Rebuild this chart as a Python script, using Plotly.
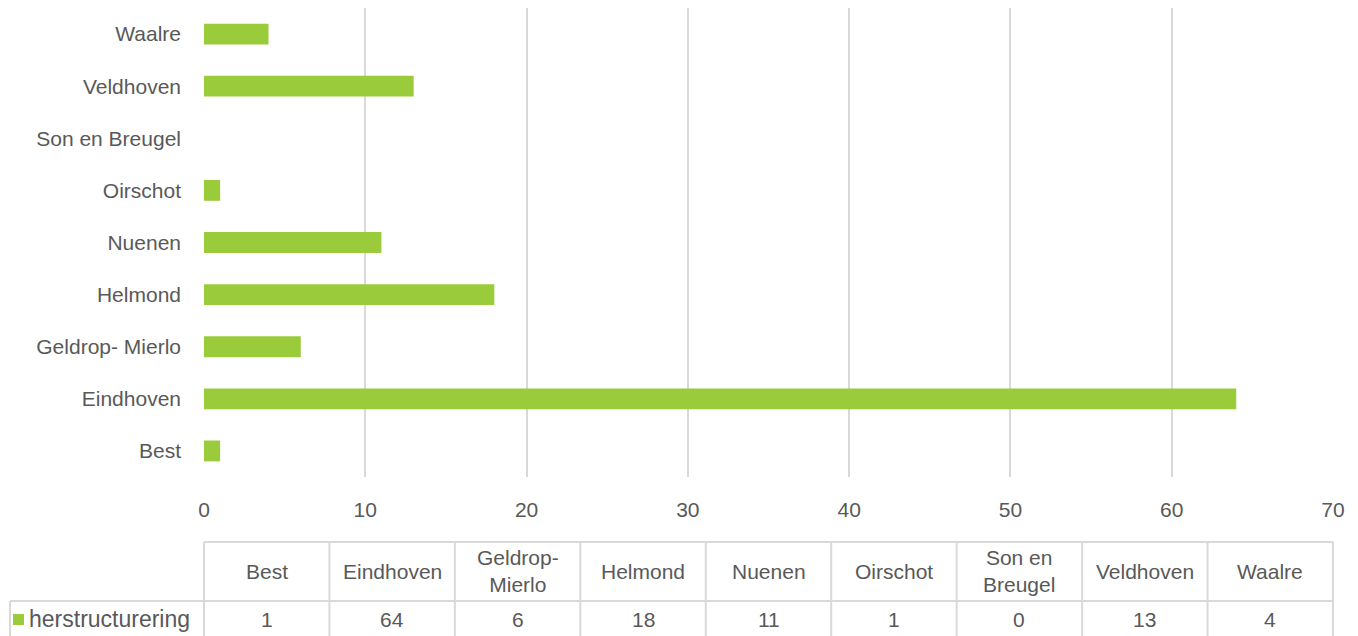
import plotly.graph_objects as go

categories = ["Best", "Eindhoven", "Geldrop- Mierlo", "Helmond", "Nuenen",
              "Oirschot", "Son en Breugel", "Veldhoven", "Waalre"]
table_headers = ["Best", "Eindhoven", "Geldrop-<br>Mierlo", "Helmond", "Nuenen",
                 "Oirschot", "Son en<br>Breugel", "Veldhoven", "Waalre"]
values = [1, 64, 6, 18, 11, 1, 0, 13, 4]
series_name = "herstructurering"
x_ticks = [0, 10, 20, 30, 40, 50, 60, 70]

FONT = "Liberation Sans, Arial, sans-serif"
FS = 21
TXT = "#595959"
GREEN = "#9ACB3A"
GRID = "#D9D9D9"

fig = go.Figure()
fig.add_trace(go.Bar(
    y=categories, x=values, orientation="h", marker_color=GREEN,
    marker_line_width=0, name=series_name, showlegend=False,
))

# plot area geometry in pixels (for converting table positions to paper)
W, H = 1358, 636
L, R, T, B = 204, 25, 8, 159
pw = W - L - R
ph = H - T - B

def px_x(x):
    return (x - L) / pw

def px_y(y):
    return (H - B - y) / ph

shapes = []
annotations = []
n = len(categories)
y_top = px_y(542)
y_mid = px_y(601)
y_bot = px_y(640)
line = dict(color=GRID, width=2)
shapes.append(dict(type="line", xref="paper", yref="paper", x0=0, x1=1, y0=y_top, y1=y_top, line=line))
shapes.append(dict(type="line", xref="paper", yref="paper", x0=px_x(10), x1=1, y0=y_mid, y1=y_mid, line=line))
for i in range(n + 1):
    xx = i / n
    shapes.append(dict(type="line", xref="paper", yref="paper", x0=xx, x1=xx, y0=y_top, y1=y_bot, line=line))
shapes.append(dict(type="line", xref="paper", yref="paper", x0=px_x(10), x1=px_x(10), y0=y_mid, y1=y_bot, line=line))
# legend key
shapes.append(dict(type="rect", xref="paper", yref="paper", x0=px_x(13), x1=px_x(24),
                   y0=px_y(625), y1=px_y(614), fillcolor=GREEN, line=dict(width=0)))

for i, (h, v) in enumerate(zip(table_headers, values)):
    xc = (i + 0.5) / n
    annotations.append(dict(xref="paper", yref="paper", x=xc, y=px_y(571), text=h, showarrow=False,
                            xanchor="center", yanchor="middle", font=dict(family=FONT, size=FS, color=TXT)))
    annotations.append(dict(xref="paper", yref="paper", x=xc, y=px_y(619), text=str(v), showarrow=False,
                            xanchor="center", yanchor="middle", font=dict(family=FONT, size=FS, color=TXT)))
annotations.append(dict(xref="paper", yref="paper", x=px_x(27), y=px_y(619), text=series_name, showarrow=False,
                        xanchor="left", yanchor="middle", font=dict(family=FONT, size=23, color=TXT)))

fig.update_layout(
    width=W, height=H,
    margin=dict(l=L, r=R, t=T, b=B),
    paper_bgcolor="white", plot_bgcolor="white",
    font=dict(family=FONT, size=FS, color=TXT),
    bargap=0.6,
    shapes=shapes, annotations=annotations,
    xaxis=dict(range=[0, 70], tickvals=x_ticks, showgrid=True, gridcolor=GRID, gridwidth=2,
               zeroline=False, showline=False, ticks="", ticklabelstandoff=18,
               tickfont=dict(family=FONT, size=FS, color=TXT), fixedrange=True),
    yaxis=dict(categoryorder="array", categoryarray=categories, showgrid=False, zeroline=False,
               showline=False, ticks="", ticklabelstandoff=22,
               tickfont=dict(family=FONT, size=FS, color=TXT), fixedrange=True),
)

fig.write_html("out.html", config={"displayModeBar": False},
               post_script="document.body.style.margin='0';document.body.style.overflow='hidden';")
